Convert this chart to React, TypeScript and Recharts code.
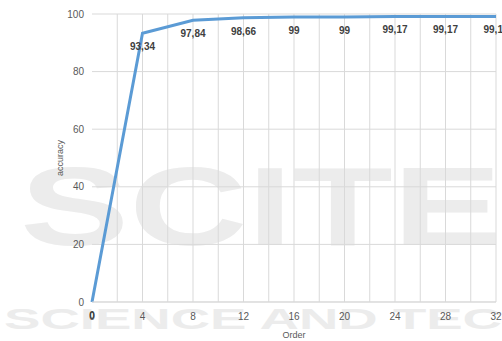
import React from "react";
import { LineChart, Line, XAxis, YAxis, CartesianGrid, LabelList } from "recharts";

const orders = [0, 4, 8, 12, 16, 20, 24, 28, 32];
const accuracy = [0, 93.34, 97.84, 98.66, 99, 99, 99.17, 99.17, 99.17];
const xTicks = [0, 4, 8, 12, 16, 20, 24, 28, 32];
const yTicks = [0, 20, 40, 60, 80, 100];
const gridX = [2, 4, 6, 8, 10, 12, 14, 16, 18, 20, 22, 24, 26, 28, 30, 32];

const data = orders.map((o, i) => ({ order: o, accuracy: accuracy[i] }));

const font = "Liberation Sans, Arial, sans-serif";

function Watermark() {
  return (
    <svg width={502} height={341} style={{ position: "absolute", left: 0, top: 0 }}>
      <text
        x={20}
        y={245}
        fontSize={112}
        fontWeight="bold"
        fontFamily={font}
        textLength={482}
        lengthAdjust="spacingAndGlyphs"
        fill="#ececec"
      >
        SCITE
      </text>
      <text
        x={4}
        y={329}
        fontSize={30}
        fontWeight="bold"
        fontFamily={font}
        textLength={498}
        lengthAdjust="spacingAndGlyphs"
        fill="#ececec"
      >
        SCIENCE AND TEC
      </text>
    </svg>
  );
}

export default function App() {
  return (
    <div style={{ position: "fixed", left: 0, top: 0, width: 502, height: 341, background: "#fff" }}>
      <Watermark />
      <div style={{ position: "absolute", left: 0, top: 0 }}>
        <LineChart
          width={502}
          height={341}
          data={data}
          margin={{ top: 14, right: 6, left: 0, bottom: 0 }}
          style={{ fontFamily: font }}
        >
          <CartesianGrid stroke="#d9d9d9" verticalValues={gridX} horizontalValues={yTicks} />
          <XAxis
            dataKey="order"
            type="number"
            domain={[0, 32]}
            ticks={xTicks}
            height={39}
            tickLine={false}
            tickMargin={5}
            axisLine={{ stroke: "#d9d9d9" }}
            tick={{ fontSize: 10, fill: "#595959" }}
            label={{ value: "Order", position: "insideBottom", offset: 3, fontSize: 9, fill: "#595959" }}
          />
          <YAxis
            type="number"
            domain={[0, 100]}
            ticks={yTicks}
            width={92}
            axisLine={false}
            tickLine={false}
            tick={{ fontSize: 10, fill: "#595959" }}
            label={{ value: "accuracy", angle: -90, position: "center", dx: 14, fontSize: 9, fill: "#595959" }}
          />
          <Line
            type="linear"
            dataKey="accuracy"
            stroke="#5b9bd5"
            strokeWidth={3}
            dot={false}
            isAnimationActive={false}
          >
            <LabelList
              dataKey="accuracy"
              position="bottom"
              offset={10}
              fontSize={10}
              fontWeight="bold"
              fill="#404040"
              formatter={(v: any) => String(v).replace(".", ",")}
            />
          </Line>
        </LineChart>
      </div>
    </div>
  );
}
